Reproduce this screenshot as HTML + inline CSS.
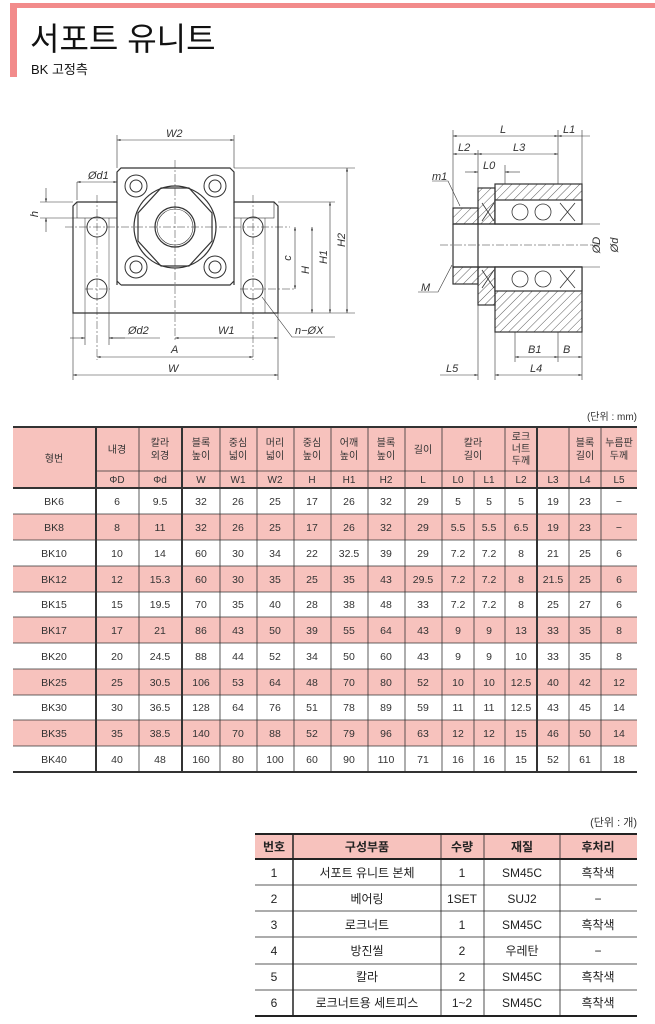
<!DOCTYPE html>
<html><head><meta charset="utf-8"><style>
html,body{margin:0;padding:0;background:#fff;}
svg{display:block;font-family:"Liberation Sans","Noto Sans CJK KR",sans-serif;}
</style></head><body>
<svg width="655" height="1024" viewBox="0 0 655 1024" xmlns="http://www.w3.org/2000/svg">
<defs>
<pattern id="h" width="6" height="6" patternUnits="userSpaceOnUse" patternTransform="rotate(45)"><line x1="0" y1="0" x2="0" y2="6" stroke="#333" stroke-width="0.8"/></pattern>
<marker id="a" viewBox="0 0 10 10" refX="10" refY="5" markerWidth="6" markerHeight="6" orient="auto-start-reverse"><path d="M0,2 L10,5 L0,8z" fill="#333"/></marker>
</defs>
<!-- header -->
<rect x="10" y="3" width="645" height="5" fill="#f28b8b"/>
<rect x="10" y="3" width="7" height="74" fill="#f28b8b"/>
<text x="30" y="50" font-size="32" fill="#111">서포트 유니트</text>
<text x="31" y="74" font-size="13" fill="#111">BK 고정측</text>

<!-- front view -->
<g stroke="#333" fill="none" stroke-width="1.2">
<path d="M73,313 L73,206 L77,202 L117,202 L117,172 L121,168 L230,168 L234,172 L234,202 L274,202 L278,206 L278,313 Z" fill="#fff"/>
<path d="M117,285 L117,202 M234,202 L234,285 M121,285 L230,285 L234,281 M121,285 L117,281"/>
<rect x="77" y="202" width="40" height="16" stroke-width="0.6"/>
<rect x="234" y="202" width="40" height="16" stroke-width="0.6"/>
<circle cx="175" cy="227" r="41"/>
<polygon points="161,188 189,188 212,213 212,241 189,266 161,266 138,241 138,213"/>
<circle cx="175" cy="227" r="20"/>
<circle cx="175" cy="227" r="18" stroke-width="0.6"/>
<g stroke-width="1"><circle cx="136" cy="186" r="11"/><circle cx="136" cy="186" r="6"/><circle cx="215" cy="186" r="11"/><circle cx="215" cy="186" r="6"/><circle cx="136" cy="267" r="11"/><circle cx="136" cy="267" r="6"/><circle cx="215" cy="267" r="11"/><circle cx="215" cy="267" r="6"/>
<circle cx="97" cy="227" r="10"/><circle cx="97" cy="289" r="10"/><circle cx="253" cy="227" r="10"/><circle cx="253" cy="289" r="10"/></g>
<g stroke-width="0.5"><line x1="85" y1="218" x2="85" y2="313"/><line x1="109" y1="218" x2="109" y2="313"/><line x1="241" y1="218" x2="241" y2="313"/><line x1="265" y1="218" x2="265" y2="313"/></g>
<g stroke-width="0.5" stroke-dasharray="8,2,2,2"><line x1="175" y1="160" x2="175" y2="340"/><line x1="65" y1="227" x2="290" y2="227"/><line x1="97" y1="195" x2="97" y2="360"/><line x1="253" y1="195" x2="253" y2="360"/><line x1="85" y1="289" x2="110" y2="289"/><line x1="240" y1="289" x2="295" y2="289"/></g>
<g stroke-width="0.6">
<line x1="117" y1="168" x2="117" y2="135"/><line x1="234" y1="168" x2="234" y2="135"/>
<line x1="117" y1="140" x2="234" y2="140" marker-start="url(#a)" marker-end="url(#a)"/>
<line x1="77" y1="182" x2="77" y2="200"/><line x1="77" y1="182" x2="117" y2="182" marker-start="url(#a)" marker-end="url(#a)"/>
<line x1="40" y1="202" x2="73" y2="202"/><line x1="40" y1="218" x2="77" y2="218"/>
<line x1="46" y1="188" x2="46" y2="202" marker-end="url(#a)"/><line x1="46" y1="232" x2="46" y2="218" marker-end="url(#a)"/>
<line x1="234" y1="168" x2="355" y2="168"/><line x1="278" y1="202" x2="335" y2="202"/><line x1="278" y1="313" x2="355" y2="313"/>
<line x1="347" y1="168" x2="347" y2="313" marker-start="url(#a)" marker-end="url(#a)"/>
<line x1="330" y1="202" x2="330" y2="313" marker-start="url(#a)" marker-end="url(#a)"/>
<line x1="312" y1="227" x2="312" y2="313" marker-start="url(#a)" marker-end="url(#a)"/>
<line x1="295" y1="227" x2="295" y2="289" marker-start="url(#a)" marker-end="url(#a)"/>
<line x1="73" y1="313" x2="73" y2="380"/><line x1="278" y1="313" x2="278" y2="380"/>
<line x1="85" y1="313" x2="85" y2="345"/><line x1="109" y1="313" x2="109" y2="345"/>
<line x1="70" y1="338" x2="85" y2="338" marker-end="url(#a)"/><line x1="125" y1="338" x2="109" y2="338" marker-end="url(#a)"/>
<line x1="109" y1="338" x2="160" y2="338"/>
<line x1="175" y1="338" x2="278" y2="338" marker-start="url(#a)" marker-end="url(#a)"/>
<line x1="97" y1="357" x2="253" y2="357" marker-start="url(#a)" marker-end="url(#a)"/>
<line x1="73" y1="375" x2="278" y2="375" marker-start="url(#a)" marker-end="url(#a)"/>
<polyline points="262,297 292,337 335,337"/>
</g>
</g>
<g font-size="11" font-style="italic" fill="#333">
<text x="166" y="137">W2</text><text x="88" y="179">Ød1</text><text x="38" y="214" transform="rotate(-90 38 214)" text-anchor="middle">h</text>
<text x="128" y="334">Ød2</text><text x="218" y="334">W1</text><text x="171" y="353">A</text><text x="168" y="372">W</text>
<text x="295" y="334">n−ØX</text>
<text x="291" y="258" transform="rotate(-90 291 258)" text-anchor="middle">c</text>
<text x="309" y="270" transform="rotate(-90 309 270)" text-anchor="middle">H</text>
<text x="327" y="257" transform="rotate(-90 327 257)" text-anchor="middle">H1</text>
<text x="345" y="240" transform="rotate(-90 345 240)" text-anchor="middle">H2</text>
</g>

<!-- side view -->
<g stroke="#333" stroke-width="1.2">
<rect x="495" y="184" width="87" height="40" fill="url(#h)"/>
<rect x="495" y="267" width="87" height="65" fill="url(#h)"/>
<rect x="478" y="188" width="17" height="36" fill="url(#h)"/>
<rect x="478" y="267" width="17" height="38" fill="url(#h)"/>
<rect x="453" y="208" width="25" height="16" fill="url(#h)"/>
<rect x="453" y="267" width="25" height="17" fill="url(#h)"/>
<rect x="495" y="200" width="87" height="24" fill="#fff"/>
<rect x="495" y="267" width="87" height="24" fill="#fff"/>
<line x1="453" y1="224" x2="582" y2="224"/><line x1="453" y1="267" x2="582" y2="267"/>
<line x1="453" y1="224" x2="453" y2="267"/><line x1="478" y1="224" x2="478" y2="267"/>
<g fill="none" stroke-width="0.8"><circle cx="520" cy="212" r="8"/><circle cx="543" cy="212" r="8"/><circle cx="520" cy="279" r="8"/><circle cx="543" cy="279" r="8"/>
<path d="M482,203 L494,221 M494,203 L482,221 M560,203 L575,221 M575,203 L560,221 M482,270 L494,288 M494,270 L482,288 M560,270 L575,288 M575,270 L560,288"/></g>
</g>
<g stroke="#333" stroke-width="0.6" fill="none">
<line x1="440" y1="245" x2="600" y2="245" stroke-dasharray="8,2,2,2"/>
<line x1="453" y1="130" x2="453" y2="208"/><line x1="558" y1="130" x2="558" y2="184"/><line x1="582" y1="130" x2="582" y2="184"/>
<line x1="478" y1="150" x2="478" y2="188"/><line x1="505" y1="165" x2="505" y2="184"/>
<line x1="453" y1="136" x2="558" y2="136" marker-start="url(#a)" marker-end="url(#a)"/>
<line x1="558" y1="136" x2="590" y2="136" marker-start="url(#a)"/>
<line x1="453" y1="154" x2="478" y2="154" marker-start="url(#a)" marker-end="url(#a)"/>
<line x1="478" y1="154" x2="558" y2="154" marker-start="url(#a)" marker-end="url(#a)"/>
<line x1="465" y1="172" x2="478" y2="172" marker-end="url(#a)"/><line x1="520" y1="172" x2="505" y2="172" marker-end="url(#a)"/>
<line x1="582" y1="224" x2="600" y2="224"/><line x1="582" y1="267" x2="600" y2="267"/>
<line x1="515" y1="332" x2="515" y2="362"/><line x1="558" y1="332" x2="558" y2="362"/><line x1="582" y1="332" x2="582" y2="380"/><line x1="495" y1="332" x2="495" y2="380"/><line x1="478" y1="305" x2="478" y2="380"/>
<line x1="515" y1="357" x2="558" y2="357" marker-start="url(#a)" marker-end="url(#a)"/>
<line x1="558" y1="357" x2="582" y2="357" marker-end="url(#a)"/>
<line x1="495" y1="375" x2="582" y2="375" marker-start="url(#a)" marker-end="url(#a)"/>
<line x1="440" y1="375" x2="478" y2="375" marker-end="url(#a)"/>
<polyline points="432,181 448,181 460,206"/><polyline points="418,292 438,292 452,265"/>
</g>
<g font-size="11" font-style="italic" fill="#333">
<text x="500" y="133">L</text><text x="563" y="133">L1</text><text x="458" y="151">L2</text><text x="513" y="151">L3</text><text x="483" y="169">L0</text>
<text x="432" y="180">m1</text><text x="421" y="291">M</text>
<text x="528" y="353">B1</text><text x="563" y="353">B</text><text x="530" y="372">L4</text><text x="446" y="372">L5</text>
<text x="600" y="245" transform="rotate(-90 600 245)" text-anchor="middle">ØD</text>
<text x="618" y="245" transform="rotate(-90 618 245)" text-anchor="middle">Ød</text>
</g>

<!-- table 1 -->
<text x="637" y="420" font-size="10" text-anchor="end" fill="#333">(단위 : mm)</text>
<g font-size="11" fill="#333" text-anchor="middle">
<rect x="13" y="427" width="624" height="61" fill="#f7c2bd"/>
<rect x="13" y="514" width="624" height="26" fill="#f7c2bd"/>
<rect x="13" y="566" width="624" height="26" fill="#f7c2bd"/>
<rect x="13" y="617" width="624" height="26" fill="#f7c2bd"/>
<rect x="13" y="669" width="624" height="26" fill="#f7c2bd"/>
<rect x="13" y="720" width="624" height="26" fill="#f7c2bd"/>
<g stroke="#333" stroke-width="0.8">
<line x1="13" y1="427" x2="637" y2="427" stroke-width="2"/>
<line x1="96" y1="471" x2="637" y2="471"/>
<line x1="13" y1="488" x2="637" y2="488" stroke-width="2"/>
<line x1="13" y1="514" x2="637" y2="514"/><line x1="13" y1="540" x2="637" y2="540"/><line x1="13" y1="566" x2="637" y2="566"/><line x1="13" y1="592" x2="637" y2="592"/><line x1="13" y1="617" x2="637" y2="617"/><line x1="13" y1="643" x2="637" y2="643"/><line x1="13" y1="669" x2="637" y2="669"/><line x1="13" y1="695" x2="637" y2="695"/><line x1="13" y1="720" x2="637" y2="720"/><line x1="13" y1="746" x2="637" y2="746"/>
<line x1="13" y1="772" x2="637" y2="772" stroke-width="2"/>
<line x1="96" y1="427" x2="96" y2="772" stroke-width="2"/><line x1="139" y1="427" x2="139" y2="772"/><line x1="182" y1="427" x2="182" y2="772" stroke-width="2"/>
<line x1="220" y1="427" x2="220" y2="772"/><line x1="257" y1="427" x2="257" y2="772"/><line x1="294" y1="427" x2="294" y2="772"/><line x1="331" y1="427" x2="331" y2="772"/><line x1="368" y1="427" x2="368" y2="772"/><line x1="405" y1="427" x2="405" y2="772"/><line x1="442" y1="427" x2="442" y2="772"/>
<line x1="474" y1="471" x2="474" y2="772"/><line x1="505" y1="427" x2="505" y2="772"/><line x1="537" y1="427" x2="537" y2="772" stroke-width="2"/><line x1="569" y1="427" x2="569" y2="772"/><line x1="601" y1="427" x2="601" y2="772"/>
</g>
<g font-size="10">
<text x="54" y="462">형번</text>
<text x="117" y="453">내경</text>
<text x="160" y="446">칼라</text><text x="160" y="459">외경</text>
<text x="201" y="446">블록</text><text x="201" y="459">높이</text>
<text x="238" y="446">중심</text><text x="238" y="459">넓이</text>
<text x="275" y="446">머리</text><text x="275" y="459">넓이</text>
<text x="312" y="446">중심</text><text x="312" y="459">높이</text>
<text x="349" y="446">어깨</text><text x="349" y="459">높이</text>
<text x="386" y="446">블록</text><text x="386" y="459">높이</text>
<text x="423" y="453">길이</text>
<text x="473" y="446">칼라</text><text x="473" y="459">길이</text>
<text x="521" y="440">로크</text><text x="521" y="452">너트</text><text x="521" y="464">두께</text>
<text x="585" y="446">블록</text><text x="585" y="459">길이</text>
<text x="619" y="446">누름판</text><text x="619" y="459">두께</text>
</g>
<g font-size="10">
<text x="117" y="483">ΦD</text><text x="160" y="483">Φd</text><text x="201" y="483">W</text><text x="238" y="483">W1</text><text x="275" y="483">W2</text><text x="312" y="483">H</text><text x="349" y="483">H1</text><text x="386" y="483">H2</text><text x="423" y="483">L</text><text x="458" y="483">L0</text><text x="489" y="483">L1</text><text x="521" y="483">L2</text><text x="553" y="483">L3</text><text x="585" y="483">L4</text><text x="619" y="483">L5</text>
</g>
<g font-size="10.5">
<text y="505"><tspan x="54">BK6</tspan><tspan x="117">6</tspan><tspan x="160">9.5</tspan><tspan x="201">32</tspan><tspan x="238">26</tspan><tspan x="275">25</tspan><tspan x="312">17</tspan><tspan x="349">26</tspan><tspan x="386">32</tspan><tspan x="423">29</tspan><tspan x="458">5</tspan><tspan x="489">5</tspan><tspan x="521">5</tspan><tspan x="553">19</tspan><tspan x="585">23</tspan><tspan x="619">−</tspan></text>
<text y="531"><tspan x="54">BK8</tspan><tspan x="117">8</tspan><tspan x="160">11</tspan><tspan x="201">32</tspan><tspan x="238">26</tspan><tspan x="275">25</tspan><tspan x="312">17</tspan><tspan x="349">26</tspan><tspan x="386">32</tspan><tspan x="423">29</tspan><tspan x="458">5.5</tspan><tspan x="489">5.5</tspan><tspan x="521">6.5</tspan><tspan x="553">19</tspan><tspan x="585">23</tspan><tspan x="619">−</tspan></text>
<text y="557"><tspan x="54">BK10</tspan><tspan x="117">10</tspan><tspan x="160">14</tspan><tspan x="201">60</tspan><tspan x="238">30</tspan><tspan x="275">34</tspan><tspan x="312">22</tspan><tspan x="349">32.5</tspan><tspan x="386">39</tspan><tspan x="423">29</tspan><tspan x="458">7.2</tspan><tspan x="489">7.2</tspan><tspan x="521">8</tspan><tspan x="553">21</tspan><tspan x="585">25</tspan><tspan x="619">6</tspan></text>
<text y="583"><tspan x="54">BK12</tspan><tspan x="117">12</tspan><tspan x="160">15.3</tspan><tspan x="201">60</tspan><tspan x="238">30</tspan><tspan x="275">35</tspan><tspan x="312">25</tspan><tspan x="349">35</tspan><tspan x="386">43</tspan><tspan x="423">29.5</tspan><tspan x="458">7.2</tspan><tspan x="489">7.2</tspan><tspan x="521">8</tspan><tspan x="553">21.5</tspan><tspan x="585">25</tspan><tspan x="619">6</tspan></text>
<text y="608"><tspan x="54">BK15</tspan><tspan x="117">15</tspan><tspan x="160">19.5</tspan><tspan x="201">70</tspan><tspan x="238">35</tspan><tspan x="275">40</tspan><tspan x="312">28</tspan><tspan x="349">38</tspan><tspan x="386">48</tspan><tspan x="423">33</tspan><tspan x="458">7.2</tspan><tspan x="489">7.2</tspan><tspan x="521">8</tspan><tspan x="553">25</tspan><tspan x="585">27</tspan><tspan x="619">6</tspan></text>
<text y="634"><tspan x="54">BK17</tspan><tspan x="117">17</tspan><tspan x="160">21</tspan><tspan x="201">86</tspan><tspan x="238">43</tspan><tspan x="275">50</tspan><tspan x="312">39</tspan><tspan x="349">55</tspan><tspan x="386">64</tspan><tspan x="423">43</tspan><tspan x="458">9</tspan><tspan x="489">9</tspan><tspan x="521">13</tspan><tspan x="553">33</tspan><tspan x="585">35</tspan><tspan x="619">8</tspan></text>
<text y="660"><tspan x="54">BK20</tspan><tspan x="117">20</tspan><tspan x="160">24.5</tspan><tspan x="201">88</tspan><tspan x="238">44</tspan><tspan x="275">52</tspan><tspan x="312">34</tspan><tspan x="349">50</tspan><tspan x="386">60</tspan><tspan x="423">43</tspan><tspan x="458">9</tspan><tspan x="489">9</tspan><tspan x="521">10</tspan><tspan x="553">33</tspan><tspan x="585">35</tspan><tspan x="619">8</tspan></text>
<text y="686"><tspan x="54">BK25</tspan><tspan x="117">25</tspan><tspan x="160">30.5</tspan><tspan x="201">106</tspan><tspan x="238">53</tspan><tspan x="275">64</tspan><tspan x="312">48</tspan><tspan x="349">70</tspan><tspan x="386">80</tspan><tspan x="423">52</tspan><tspan x="458">10</tspan><tspan x="489">10</tspan><tspan x="521">12.5</tspan><tspan x="553">40</tspan><tspan x="585">42</tspan><tspan x="619">12</tspan></text>
<text y="711"><tspan x="54">BK30</tspan><tspan x="117">30</tspan><tspan x="160">36.5</tspan><tspan x="201">128</tspan><tspan x="238">64</tspan><tspan x="275">76</tspan><tspan x="312">51</tspan><tspan x="349">78</tspan><tspan x="386">89</tspan><tspan x="423">59</tspan><tspan x="458">11</tspan><tspan x="489">11</tspan><tspan x="521">12.5</tspan><tspan x="553">43</tspan><tspan x="585">45</tspan><tspan x="619">14</tspan></text>
<text y="737"><tspan x="54">BK35</tspan><tspan x="117">35</tspan><tspan x="160">38.5</tspan><tspan x="201">140</tspan><tspan x="238">70</tspan><tspan x="275">88</tspan><tspan x="312">52</tspan><tspan x="349">79</tspan><tspan x="386">96</tspan><tspan x="423">63</tspan><tspan x="458">12</tspan><tspan x="489">12</tspan><tspan x="521">15</tspan><tspan x="553">46</tspan><tspan x="585">50</tspan><tspan x="619">14</tspan></text>
<text y="763"><tspan x="54">BK40</tspan><tspan x="117">40</tspan><tspan x="160">48</tspan><tspan x="201">160</tspan><tspan x="238">80</tspan><tspan x="275">100</tspan><tspan x="312">60</tspan><tspan x="349">90</tspan><tspan x="386">110</tspan><tspan x="423">71</tspan><tspan x="458">16</tspan><tspan x="489">16</tspan><tspan x="521">15</tspan><tspan x="553">52</tspan><tspan x="585">61</tspan><tspan x="619">18</tspan></text>
</g>
</g>

<!-- table 2 -->
<text x="637" y="826" font-size="11" text-anchor="end" fill="#333">(단위 : 개)</text>
<g fill="#222" text-anchor="middle">
<rect x="255" y="834" width="382" height="25" fill="#f7c2bd"/>
<g stroke="#222" stroke-width="0.8">
<line x1="255" y1="834" x2="637" y2="834" stroke-width="2"/><line x1="255" y1="859" x2="637" y2="859" stroke-width="2"/>
<line x1="255" y1="885" x2="637" y2="885"/><line x1="255" y1="911" x2="637" y2="911"/><line x1="255" y1="937" x2="637" y2="937"/><line x1="255" y1="964" x2="637" y2="964"/><line x1="255" y1="990" x2="637" y2="990"/>
<line x1="255" y1="1016" x2="637" y2="1016" stroke-width="2"/>
<line x1="293" y1="834" x2="293" y2="1016" stroke-width="1.5"/><line x1="441" y1="834" x2="441" y2="1016"/><line x1="484" y1="834" x2="484" y2="1016"/><line x1="560" y1="834" x2="560" y2="1016"/>
</g>
<g font-size="12" font-weight="bold"><text x="274" y="851">번호</text><text x="367" y="851">구성부품</text><text x="462" y="851">수량</text><text x="522" y="851">재질</text><text x="598" y="851">후처리</text></g>
<g font-size="12">
<text y="877"><tspan x="274">1</tspan><tspan x="367">서포트 유니트 본체</tspan><tspan x="462">1</tspan><tspan x="522">SM45C</tspan><tspan x="598">흑착색</tspan></text>
<text y="903"><tspan x="274">2</tspan><tspan x="367">베어링</tspan><tspan x="462">1SET</tspan><tspan x="522">SUJ2</tspan><tspan x="598">−</tspan></text>
<text y="929"><tspan x="274">3</tspan><tspan x="367">로크너트</tspan><tspan x="462">1</tspan><tspan x="522">SM45C</tspan><tspan x="598">흑착색</tspan></text>
<text y="955"><tspan x="274">4</tspan><tspan x="367">방진씰</tspan><tspan x="462">2</tspan><tspan x="522">우레탄</tspan><tspan x="598">−</tspan></text>
<text y="981"><tspan x="274">5</tspan><tspan x="367">칼라</tspan><tspan x="462">2</tspan><tspan x="522">SM45C</tspan><tspan x="598">흑착색</tspan></text>
<text y="1007"><tspan x="274">6</tspan><tspan x="367">로크너트용 세트피스</tspan><tspan x="462">1~2</tspan><tspan x="522">SM45C</tspan><tspan x="598">흑착색</tspan></text>
</g>
</g>
</svg>
</body></html>
